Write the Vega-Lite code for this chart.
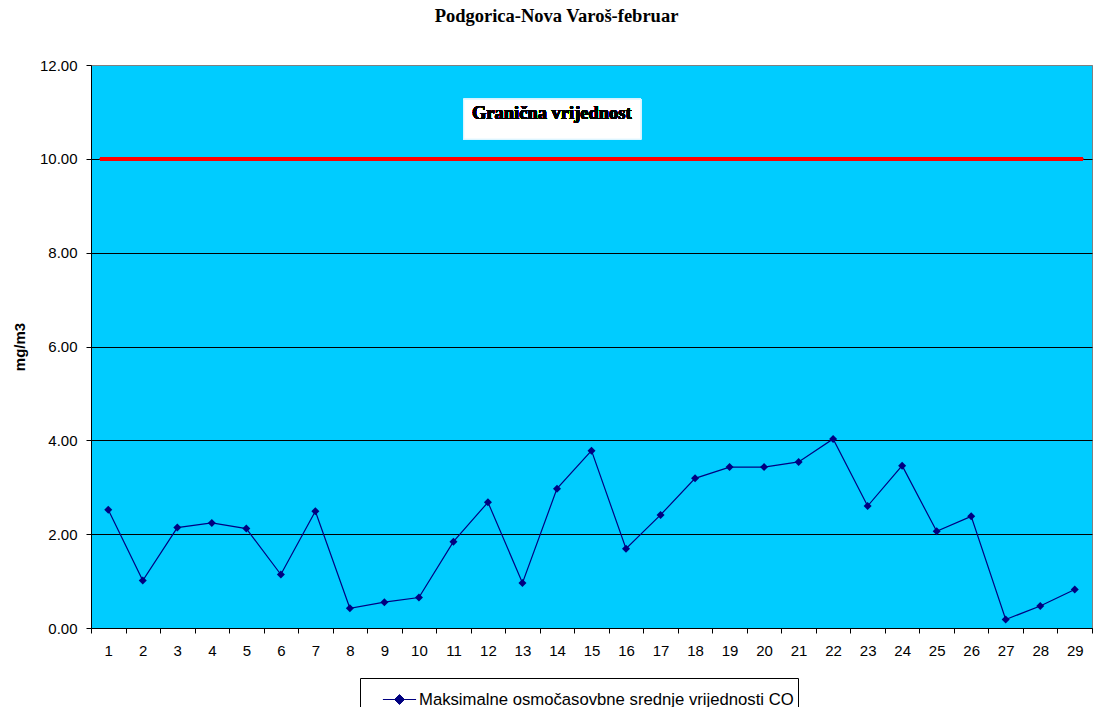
{
  "$schema": "https://vega.github.io/schema/vega-lite/v6.json",
  "autosize": {"type": "none"},
  "width": 1001,
  "height": 563,
  "padding": {"left": 91, "top": 65, "right": 2, "bottom": 79},
  "background": "white",
  "title": {
    "text": "Podgorica-Nova Varoš-februar",
    "font": "Liberation Serif",
    "fontSize": 18.5,
    "fontWeight": "bold",
    "color": "black",
    "anchor": "middle",
    "dx": -35,
    "offset": 33
  },
  "config": {
    "view": {"fill": "#00CCFF", "stroke": "#808080", "strokeWidth": 1}
  },
  "data": {
    "values": [
      {"day": 1, "value": 2.52},
      {"day": 2, "value": 1.01},
      {"day": 3, "value": 2.14},
      {"day": 4, "value": 2.24},
      {"day": 5, "value": 2.12},
      {"day": 6, "value": 1.14},
      {"day": 7, "value": 2.49},
      {"day": 8, "value": 0.42},
      {"day": 9, "value": 0.55},
      {"day": 10, "value": 0.65},
      {"day": 11, "value": 1.84},
      {"day": 12, "value": 2.68},
      {"day": 13, "value": 0.96},
      {"day": 14, "value": 2.97},
      {"day": 15, "value": 3.78},
      {"day": 16, "value": 1.69},
      {"day": 17, "value": 2.41},
      {"day": 18, "value": 3.19},
      {"day": 19, "value": 3.43},
      {"day": 20, "value": 3.43},
      {"day": 21, "value": 3.54},
      {"day": 22, "value": 4.03},
      {"day": 23, "value": 2.60},
      {"day": 24, "value": 3.46},
      {"day": 25, "value": 2.06},
      {"day": 26, "value": 2.38},
      {"day": 27, "value": 0.18},
      {"day": 28, "value": 0.47},
      {"day": 29, "value": 0.82}
    ]
  },
  "encoding": {
    "x": {
      "field": "day",
      "type": "quantitative",
      "scale": {"domain": [0.5, 29.5], "nice": false, "zero": false},
      "axis": {
        "title": null,
        "values": [0.5, 1.5, 2.5, 3.5, 4.5, 5.5, 6.5, 7.5, 8.5, 9.5, 10.5, 11.5, 12.5, 13.5, 14.5, 15.5, 16.5, 17.5, 18.5, 19.5, 20.5, 21.5, 22.5, 23.5, 24.5, 25.5, 26.5, 27.5, 28.5, 29.5],
        "labelExpr": "datum.value < 29 ? format(datum.value + 0.5, 'd') : ''",
        "labelOffset": 17.26,
        "labelFlush": false,
        "labelOverlap": false,
        "labelBound": false,
        "labelPadding": 10,
        "labelFont": "Liberation Sans",
        "labelFontSize": 15,
        "labelColor": "black",
        "tickColor": "black",
        "tickSize": 5,
        "domainColor": "black",
        "grid": false
      }
    },
    "y": {
      "field": "value",
      "type": "quantitative",
      "scale": {"domain": [0, 12], "nice": false},
      "axis": {
        "title": "mg/m3",
        "titleFont": "Liberation Sans",
        "titleFontSize": 15,
        "titleFontWeight": "bold",
        "titleColor": "black",
        "titlePadding": 12,
        "values": [0, 2, 4, 6, 8, 10, 12],
        "format": ".2f",
        "labelFont": "Liberation Sans",
        "labelFontSize": 15,
        "labelColor": "black",
        "labelPadding": 9,
        "tickColor": "black",
        "tickSize": 5,
        "domainColor": "black",
        "grid": true,
        "gridColor": {"condition": {"test": "datum.value == 12", "value": "#808080"}, "value": "black"},
        "gridOpacity": 1
      }
    }
  },
  "layer": [
    {
      "mark": {"type": "rect", "fill": "white", "stroke": "#d8f4ff", "strokeWidth": 1},
      "encoding": {
        "x": {"datum": 11.3, "type": "quantitative"},
        "x2": {"datum": 16.43},
        "y": {"datum": 11.27, "type": "quantitative"},
        "y2": {"datum": 10.42}
      }
    },
    {
      "mark": {"type": "text", "font": "Liberation Serif", "fontSize": 18.5, "fontWeight": "bold", "fill": "black", "align": "center", "baseline": "middle"},
      "encoding": {
        "x": {"datum": 13.85, "type": "quantitative"},
        "y": {"datum": 10.98, "type": "quantitative"},
        "text": {"value": "Granična vrijednost"}
      }
    },
    {
      "mark": {"type": "rule", "color": "#ff0000", "strokeWidth": 3},
      "encoding": {
        "x": {"datum": 0.76, "type": "quantitative"},
        "x2": {"datum": 29.24},
        "y": {"datum": 10, "type": "quantitative"}
      }
    },
    {
      "mark": {"type": "line", "strokeWidth": 1.2, "point": {"shape": "diamond", "filled": true, "size": 64, "opacity": 1}},
      "encoding": {
        "color": {
          "datum": "Maksimalne osmočasovbne srednje vrijednosti CO",
          "type": "nominal",
          "scale": {"range": ["#000080"]},
          "legend": {
            "title": null,
            "orient": "none",
            "legendX": 269,
            "legendY": 613,
            "strokeColor": "black",
            "fillColor": "white",
            "padding": 4,
            "symbolType": "M-1,0L1,0M0,-0.3L0.3,0L0,0.3L-0.3,0Z",
            "symbolSize": 1100,
            "symbolFillColor": "#000080",
            "symbolStrokeColor": "#000080",
            "symbolStrokeWidth": 1,
            "symbolOffset": 18,
            "labelOffset": 2,
            "labelFont": "Liberation Sans",
            "labelFontSize": 16.7,
            "labelColor": "black",
            "labelLimit": 600
          }
        }
      }
    }
  ]
}
